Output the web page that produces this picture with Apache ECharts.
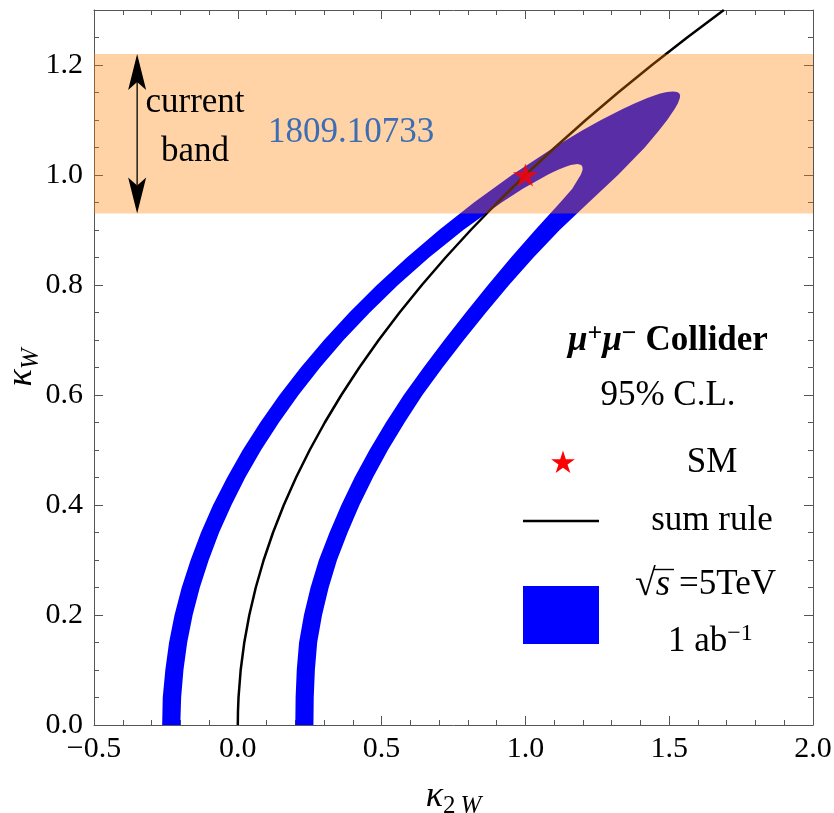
<!DOCTYPE html>
<html>
<head>
<meta charset="utf-8">
<script src="https://cdn.jsdelivr.net/npm/echarts@6/dist/echarts.min.js"></script>
<style>
  html, body { margin: 0; padding: 0; background: #fff; }
  #chart { width: 834px; height: 813px; }
</style>
</head>
<body>
<div id="chart"></div>
<script>
// Axis ranges and tick labels
const X_MIN = -0.5, X_MAX = 2.0, X_STEP = 0.5;
const Y_MIN = 0, Y_MAX = 1.3, Y_STEP = 0.2;
const xTickLabels = ['\u22120.5', '0.0', '0.5', '1.0', '1.5', '2.0'];
const yTickLabels = ['0.0', '0.2', '0.4', '0.6', '0.8', '1.0', '1.2'];

// 95% C.L. region (sqrt(s) = 5 TeV, 1 ab^-1): outer edge of the U-shaped band,
// sampled at fixed kappa_W heights, left and right arm (kappa_2W values)
const outerKW    = [0, 0.05, 0.1, 0.15, 0.2, 0.25, 0.3, 0.35, 0.4, 0.45, 0.5, 0.55, 0.6, 0.65, 0.7, 0.75, 0.8, 0.85, 0.9, 0.95, 1.0, 1.05, 1.08, 1.1, 1.12, 1.13, 1.14, 1.145, 1.148, 1.15, 1.151];
const outerLeft  = [-0.263, -0.261, -0.252, -0.239, -0.220, -0.195, -0.164, -0.128, -0.086, -0.037, 0.017, 0.078, 0.145, 0.219, 0.300, 0.388, 0.484, 0.588, 0.700, 0.821, 0.953, 1.099, 1.194, 1.263, 1.338, 1.379, 1.424, 1.451, 1.469, 1.484, 1.493];
const outerRight = [0.263, 0.264, 0.268, 0.276, 0.293, 0.316, 0.345, 0.382, 0.423, 0.470, 0.522, 0.580, 0.642, 0.712, 0.786, 0.863, 0.943, 1.028, 1.119, 1.220, 1.322, 1.415, 1.463, 1.493, 1.519, 1.530, 1.537, 1.538, 1.535, 1.531, 1.527];
const outerApex  = [1.513, 1.152];

// inner edge (the hole between the two arms)
const innerKW    = [0, 0.05, 0.1, 0.15, 0.2, 0.25, 0.3, 0.35, 0.4, 0.45, 0.5, 0.55, 0.6, 0.65, 0.7, 0.75, 0.8, 0.85, 0.9, 0.95, 0.975, 1.0, 1.005, 1.01, 1.015, 1.018];
const innerLeft  = [-0.200, -0.197, -0.189, -0.176, -0.157, -0.132, -0.101, -0.065, -0.022, 0.026, 0.081, 0.143, 0.211, 0.286, 0.368, 0.459, 0.557, 0.665, 0.784, 0.917, 0.991, 1.076, 1.095, 1.116, 1.140, 1.158];
const innerRight = [0.200, 0.201, 0.205, 0.213, 0.230, 0.253, 0.282, 0.319, 0.360, 0.406, 0.458, 0.515, 0.577, 0.646, 0.718, 0.793, 0.870, 0.950, 1.034, 1.121, 1.163, 1.192, 1.196, 1.199, 1.198, 1.194];
const innerApex  = [1.181, 1.020];

// Sum rule curve
const sumRuleKW  = [0, 0.025, 0.05, 0.1, 0.15, 0.2, 0.25, 0.3, 0.35, 0.4, 0.45, 0.5, 0.55, 0.6, 0.65, 0.7, 0.75, 0.8, 0.85, 0.9, 0.95, 1.0, 1.05, 1.1, 1.15, 1.2, 1.25, 1.3];
const sumRuleK2W = [0, 0.0006, 0.0025, 0.01, 0.0225, 0.04, 0.0625, 0.09, 0.1225, 0.16, 0.2025, 0.25, 0.3025, 0.36, 0.4225, 0.49, 0.5625, 0.64, 0.7225, 0.81, 0.9025, 1.0, 1.1025, 1.21, 1.3225, 1.44, 1.5625, 1.69];

// Standard Model point
const smPoint = [1.0, 1.0];

// Current kappa_W band (1809.10733) and the arrow marking it
const currentBand = [0.93, 1.22];
const arrowK2W = -0.35;

// ---- build the closed outline of the band: up the left outer edge, over the apex,
// down the right outer edge, up the right inner edge, round the inner apex, down the left inner edge
const bandOutline = [];
outerKW.forEach((k, i) => bandOutline.push([outerLeft[i], k]));
bandOutline.push(outerApex);
for (let i = outerKW.length - 1; i >= 0; i--) bandOutline.push([outerRight[i], outerKW[i]]);
innerKW.forEach((k, i) => bandOutline.push([innerRight[i], k]));
bandOutline.push(innerApex);
for (let i = innerKW.length - 1; i >= 0; i--) bandOutline.push([innerLeft[i], innerKW[i]]);

const sumRuleData = sumRuleK2W.map((x, i) => [x, sumRuleKW[i]]);

const SERIF = '"Liberation Serif", "DejaVu Serif", serif';
const FRAME = '#555';

function labelFrom(list, min, step) {
  return v => {
    const i = Math.round((v - min) / step);
    return Math.abs(v - (min + i * step)) < 1e-6 && list[i] !== undefined ? list[i] : '';
  };
}

function xAxisDef(position, withLabels) {
  return {
    type: 'value', position, min: X_MIN, max: X_MAX, interval: X_STEP,
    axisLine: { show: true, onZero: false, lineStyle: { color: FRAME, width: 1 } },
    axisTick: { show: true, inside: true, length: 9, lineStyle: { color: FRAME } },
    minorTick: { show: true, splitNumber: 5, length: 5, lineStyle: { color: FRAME } },
    splitLine: { show: false },
    axisLabel: {
      show: withLabels, margin: 9, color: '#000', fontFamily: SERIF, fontSize: 30,
      formatter: labelFrom(xTickLabels, X_MIN, X_STEP)
    }
  };
}

function yAxisDef(position, interval, tickLen, withLabels, withLine) {
  return {
    type: 'value', position, min: Y_MIN, max: Y_MAX, interval,
    axisLine: { show: withLine, onZero: false, lineStyle: { color: FRAME, width: 1 } },
    axisTick: { show: true, inside: true, length: tickLen, lineStyle: { color: FRAME } },
    splitLine: { show: false },
    axisLabel: {
      show: withLabels, margin: 11, color: '#000', fontFamily: SERIF, fontSize: 30,
      formatter: labelFrom(yTickLabels, Y_MIN, Y_STEP)
    }
  };
}

const xMain = xAxisDef('bottom', true);
xMain.name = '{k|\u03ba}{s|2\u2009}{w|W}';
xMain.nameLocation = 'middle';
xMain.nameGap = 50;
xMain.nameTextStyle = {
  rich: {
    k: { fontFamily: SERIF, fontStyle: 'italic', fontSize: 36, lineHeight: 44, color: '#000' },
    s: { fontFamily: SERIF, fontSize: 25, lineHeight: 30, verticalAlign: 'bottom', color: '#000' },
    w: { fontFamily: SERIF, fontStyle: 'italic', fontSize: 25, lineHeight: 30, verticalAlign: 'bottom', color: '#000' }
  }
};

const yMain = yAxisDef('left', Y_STEP, 9, true, true);
yMain.name = '{k|\u03ba}{w|W}';
yMain.nameLocation = 'middle';
yMain.nameGap = 50;
yMain.nameMoveOverlap = false;
yMain.nameTextStyle = {
  rich: {
    k: { fontFamily: SERIF, fontStyle: 'italic', fontSize: 36, lineHeight: 44, color: '#000' },
    w: { fontFamily: SERIF, fontStyle: 'italic', fontSize: 25, lineHeight: 30, verticalAlign: 'bottom', color: '#000' }
  }
};

function starPoints(cx, cy, r) {
  const pts = [];
  for (let i = 0; i < 10; i++) {
    const a = -Math.PI / 2 + i * Math.PI / 5;
    const rr = i % 2 === 0 ? r : r * 0.382;
    pts.push([cx + rr * Math.cos(a), cy + rr * Math.sin(a)]);
  }
  return pts;
}

function txt(x, y, text, opts) {
  const o = opts || {};
  return {
    type: 'text', x, y, z: 100,
    style: Object.assign({
      text, fill: '#000', font: (o.weight || 'normal') + ' 35px ' + SERIF,
      align: o.align || 'center', textAlign: o.align || 'center',
      verticalAlign: 'middle', textVerticalAlign: 'middle'
    }, o.style || {})
  };
}

const supRich = {
  n: { fontFamily: SERIF, fontSize: 35, lineHeight: 40, color: '#000' },
  nb: { fontFamily: SERIF, fontSize: 35, lineHeight: 40, fontWeight: 'bold', color: '#000' },
  mu: { fontFamily: SERIF, fontSize: 35, lineHeight: 40, fontWeight: 'bold', fontStyle: 'italic', color: '#000' },
  sup: { fontFamily: SERIF, fontSize: 24, lineHeight: 18, verticalAlign: 'top', color: '#000' },
  supb: { fontFamily: SERIF, fontSize: 26, lineHeight: 18, verticalAlign: 'top', fontWeight: 'bold', color: '#000' },
  it: { fontFamily: SERIF, fontSize: 37, lineHeight: 40, fontStyle: 'italic', color: '#000' },
  rad: { fontFamily: SERIF, fontSize: 38, lineHeight: 40, color: '#000' }
};

const chart = echarts.init(document.getElementById('chart'), null, { renderer: 'canvas' });

chart.setOption({
  animation: false,
  backgroundColor: '#fff',
  grid: { left: 94, right: 21, top: 10, bottom: 88, containLabel: false, outerBoundsMode: 'none' },
  xAxis: [xMain, xAxisDef('top', false)],
  yAxis: [
    yMain,
    yAxisDef('left', 0.05, 5, false, false),
    yAxisDef('right', Y_STEP, 9, false, true),
    yAxisDef('right', 0.05, 5, false, false)
  ],
  series: [
    {
      // 95% C.L. band
      type: 'custom', name: 'band', z: 1, clip: true,
      xAxisIndex: 0, yAxisIndex: 0,
      data: [[0, 0]],
      renderItem: (params, api) => ({
        type: 'polygon',
        shape: { points: bandOutline.map(p => api.coord(p)) },
        style: { fill: '#0000ff', stroke: null }
      })
    },
    {
      type: 'line', name: 'sum rule', z: 2, data: sumRuleData,
      showSymbol: false, symbol: 'none', smooth: false, clip: true,
      lineStyle: { color: '#000', width: 2.5 }
    },
    {
      // current band, translucent orange over everything drawn so far
      type: 'custom', name: 'current band', z: 3, clip: true,
      data: [[0, 1]],
      renderItem: (params, api) => {
        const a = api.coord([X_MIN, currentBand[1]]);
        const b = api.coord([X_MAX, currentBand[0]]);
        return {
          type: 'rect',
          shape: { x: a[0], y: a[1], width: b[0] - a[0], height: b[1] - a[1] },
          style: { fill: 'rgba(255,128,0,0.35)' }
        };
      }
    },
    {
      // double-headed arrow spanning the current band
      type: 'custom', name: 'arrow', z: 4,
      data: [[arrowK2W, 1]],
      renderItem: (params, api) => {
        const t = api.coord([arrowK2W, currentBand[1]]);
        const b = api.coord([arrowK2W, currentBand[0]]);
        const L = 36, W = 9, N = 28;
        return {
          type: 'group',
          children: [
            { type: 'line', shape: { x1: t[0], y1: t[1] + N, x2: b[0], y2: b[1] - N }, style: { stroke: '#000', lineWidth: 1.3 } },
            { type: 'polygon', shape: { points: [[t[0], t[1]], [t[0] + W, t[1] + L], [t[0], t[1] + N], [t[0] - W, t[1] + L]] }, style: { fill: '#000' } },
            { type: 'polygon', shape: { points: [[b[0], b[1]], [b[0] + W, b[1] - L], [b[0], b[1] - N], [b[0] - W, b[1] - L]] }, style: { fill: '#000' } }
          ]
        };
      }
    },
    {
      type: 'scatter', name: 'SM', z: 5, data: [smPoint],
      symbol: 'path://M0,-10L2.245,-3.09L9.511,-3.09L3.633,1.18L5.878,8.09L0,3.82L-5.878,8.09L-3.633,1.18L-9.511,-3.09L-2.245,-3.09Z',
      symbolSize: [25, 24], symbolKeepAspect: true,
      itemStyle: { color: '#ff0000' }
    }
  ],
  graphic: [
    // annotation of the current band
    txt(195, 103, 'current'),
    txt(195, 152, 'band'),
    txt(268, 133, '1809.10733', { align: 'left', style: { fill: '#3d6db3' } }),

    // legend block
    txt(668, 341, '{mu|\u03bc}{supb|+}{mu|\u03bc}{supb|\u2212}{nb| Collider}', { style: { rich: supRich } }),
    txt(668, 396, '95% C.L.'),
    { type: 'polygon', z: 100, shape: { points: starPoints(563, 463, 12.5) }, style: { fill: '#ff0000' } },
    txt(712, 463, 'SM'),
    { type: 'line', z: 100, shape: { x1: 523, y1: 521, x2: 599, y2: 521 }, style: { stroke: '#000', lineWidth: 2.5 } },
    txt(712, 521, 'sum rule'),
    { type: 'rect', z: 100, shape: { x: 523, y: 586, width: 76, height: 58 }, style: { fill: '#0000ff' } },
    txt(635, 585, '{rad|\u221a}{it|s}{n| =5TeV}', { align: 'left', style: { rich: supRich } }),
    { type: 'line', z: 100, shape: { x1: 654, y1: 569.5, x2: 674, y2: 569.5 }, style: { stroke: '#000', lineWidth: 1.4 } },
    txt(668, 642, '{n|1 ab}{sup|\u22121}', { align: 'left', style: { rich: supRich } })
  ]
});
</script>
</body>
</html>
